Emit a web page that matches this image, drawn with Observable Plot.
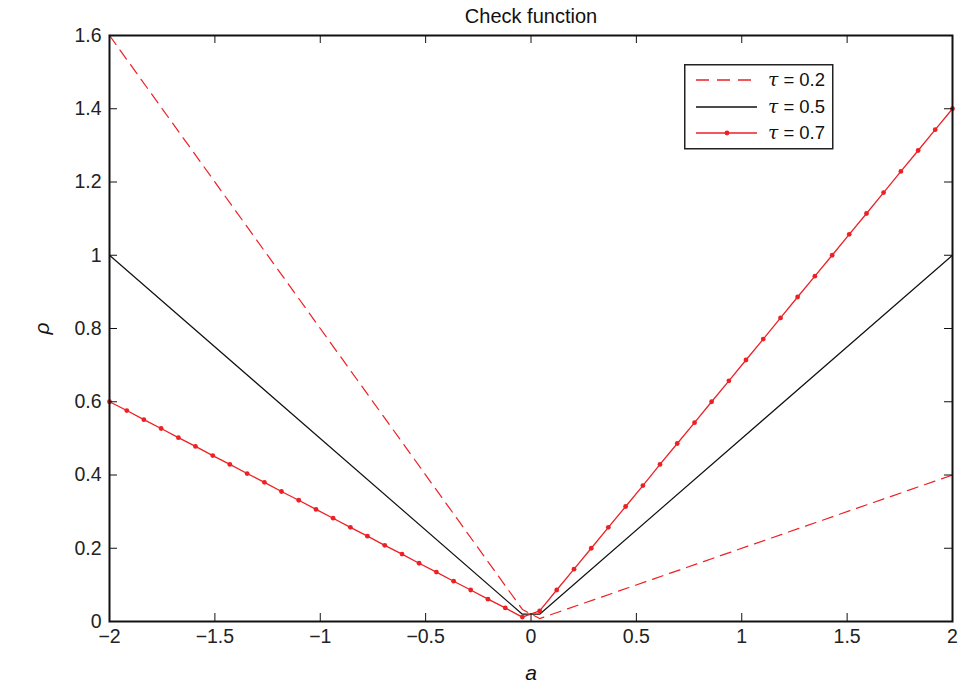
<!DOCTYPE html>
<html><head><meta charset="utf-8">
<script src="https://cdn.jsdelivr.net/npm/d3@7"></script>
<script src="https://cdn.jsdelivr.net/npm/@observablehq/plot@0.6"></script>
<style>
body{margin:0;background:#fff;font-family:"Liberation Sans",Arial,Helvetica,sans-serif}
#chart{position:relative;width:977px;height:700px}
#legend{position:absolute;left:684px;top:64px}
</style>
</head><body><div id="chart"></div>
<script>
// grid of a values (dots of the tau = 0.7 curve)
const aGrid = [-2.000,-1.918,-1.837,-1.755,-1.673,-1.592,-1.510,-1.429,-1.347,-1.265,
  -1.184,-1.102,-1.020,-0.939,-0.857,-0.776,-0.694,-0.612,-0.531,-0.449,
  -0.367,-0.286,-0.204,-0.122,-0.041,0.041,0.122,0.204,0.286,0.367,
  0.449,0.531,0.612,0.694,0.776,0.857,0.939,1.020,1.102,1.184,
  1.265,1.347,1.429,1.510,1.592,1.673,1.755,1.837,1.918,2.000];
const rho07 = [0.600,0.576,0.551,0.527,0.502,0.478,0.453,0.429,0.404,0.380,
  0.355,0.331,0.306,0.282,0.257,0.233,0.208,0.184,0.159,0.135,
  0.110,0.086,0.061,0.037,0.012,0.029,0.086,0.143,0.200,0.257,
  0.314,0.371,0.429,0.486,0.543,0.600,0.657,0.714,0.771,0.829,
  0.886,0.943,1.000,1.057,1.114,1.171,1.229,1.286,1.343,1.400];
// vertices of the straight-line curves
const vertexA = [-2.000,-0.041,0.041,2.000];
const rho02 = [1.600,0.033,0.008,0.400];
const rho05 = [1.000,0.020,0.020,1.000];

const xTicks = [-2,-1.5,-1,-0.5,0,0.5,1,1.5,2];
const yTicks = [0,0.2,0.4,0.6,0.8,1,1.2,1.4,1.6];
const tauNames = ["0.2","0.5","0.7"];
const titleText = "Check function";
const xLabel = "a";
const yLabel = "ρ";

const RED = "#ed2024";
const W = 977, H = 700;
const mL = 109, mR = 25, mT = 35, mB = 79;
const fw = W - mL - mR, fh = H - mT - mB;
const TL = 8;

const straight = (ys) => vertexA.map((a, i) => ({a, r: ys[i]}));
const d02 = straight(rho02);
const d05 = straight(rho05);
const d07 = aGrid.map((a, i) => ({a, r: rho07[i]}));
const fmt = d3.format("");

const chart = Plot.plot({
  width: W, height: H,
  marginLeft: mL, marginRight: mR, marginTop: mT, marginBottom: mB,
  style: {fontFamily: '"Liberation Sans", Arial, Helvetica, sans-serif', fontSize: "19px", color: "#222"},
  x: {domain: [-2, 2]},
  y: {domain: [0, 1.6]},
  marks: [
    Plot.line(d02, {x: "a", y: "r", stroke: RED, strokeWidth: 1.2, strokeDasharray: "11,7"}),
    Plot.line(d05, {x: "a", y: "r", stroke: "#111", strokeWidth: 1.2}),
    Plot.line(d07, {x: "a", y: "r", stroke: RED, strokeWidth: 1.3}),
    Plot.dot(d07, {x: "a", y: "r", r: 2.4, fill: RED, stroke: null}),
    // inward ticks on all four sides
    Plot.ruleY(yTicks, {y: d => d, insetRight: fw - TL, stroke: "#111"}),
    Plot.ruleY(yTicks, {y: d => d, insetLeft: fw - TL, stroke: "#111"}),
    Plot.ruleX(xTicks, {x: d => d, insetTop: fh - TL, stroke: "#111"}),
    Plot.ruleX(xTicks, {x: d => d, insetBottom: fh - TL, stroke: "#111"}),
    Plot.frame({stroke: "#111", strokeWidth: 2}),
    Plot.axisX({ticks: xTicks, tickSize: 0, tickPadding: 8, tickFormat: fmt, label: null, fontSize: 19.5}),
    Plot.axisY({ticks: yTicks, tickSize: 0, tickPadding: 8, tickFormat: fmt, label: null, fontSize: 19.5}),
    Plot.text([titleText], {frameAnchor: "top", lineAnchor: "middle", dy: -19, fontSize: 20, fill: "#111"}),
    Plot.text([xLabel], {frameAnchor: "bottom", lineAnchor: "middle", dy: 52, fontSize: 21, fontStyle: "italic", fill: "#111"}),
    Plot.text([yLabel], {frameAnchor: "left", textAnchor: "middle", lineAnchor: "middle", dx: -67, rotate: -90, fontSize: 21, fontStyle: "italic", fill: "#111"})
  ]
});
document.getElementById("chart").appendChild(chart);

// legend box
const lg = d3.select("#chart").append("svg").attr("id", "legend")
  .attr("width", 150).attr("height", 86)
  .style("font-family", '"Liberation Sans", Arial, Helvetica, sans-serif');
lg.append("rect").attr("x", 0.75).attr("y", 0.75).attr("width", 148).attr("height", 84)
  .attr("fill", "#fff").attr("stroke", "#222").attr("stroke-width", 1.5);
const styles = [
  {stroke: RED, dash: "13,8", dot: false},
  {stroke: "#111", dash: null, dot: false},
  {stroke: RED, dash: null, dot: true}
];
const rowY = [16, 43, 69];
tauNames.forEach((t, i) => {
  const s = styles[i];
  lg.append("line").attr("x1", 12).attr("x2", 73).attr("y1", rowY[i]).attr("y2", rowY[i])
    .attr("stroke", s.stroke).attr("stroke-width", 1.3).attr("stroke-dasharray", s.dash);
  if (s.dot) lg.append("circle").attr("cx", 43).attr("cy", rowY[i]).attr("r", 2.4).attr("fill", RED);
  const tx = lg.append("text").attr("x", 84).attr("y", rowY[i]).attr("dy", "0.35em")
    .attr("font-size", 18.5).attr("fill", "#111");
  tx.append("tspan").attr("font-style", "italic").attr("font-family", '"DejaVu Serif", serif').text("τ");
  tx.append("tspan").text(" = " + t);
});
</script>
</body></html>
